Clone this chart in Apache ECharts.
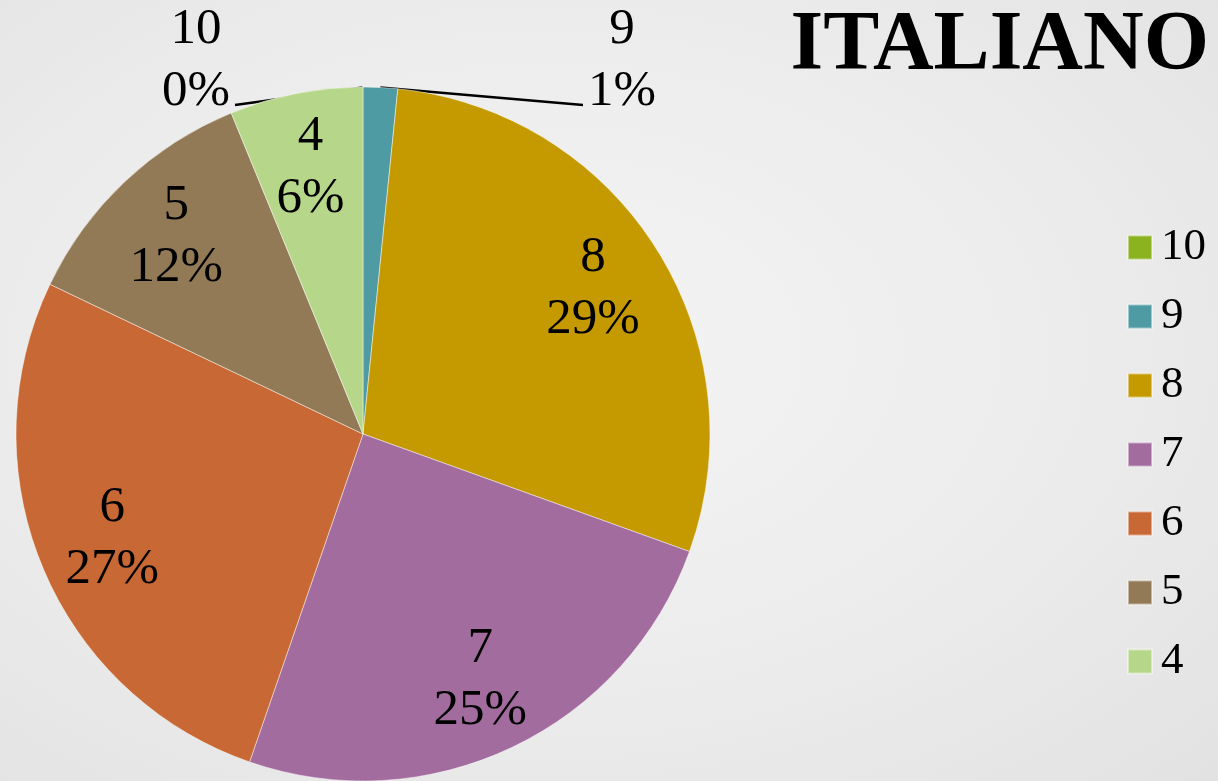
<!DOCTYPE html>
<html>
<head>
    <meta charset="utf-8">
    <title>ITALIANO</title>
    <script src="https://cdn.jsdelivr.net/npm/echarts@6/dist/echarts.min.js"></script>
    <style>
        html, body { margin: 0; padding: 0; }
        body {
            background: radial-gradient(ellipse at 45% 45%, #f4f4f4 0%, #ececec 55%, #e2e2e2 100%);
        }
    </style>
</head>
<body>
    <div id="main" style="width: 1218px; height: 781px;"></div>
    <script type="text/javascript">
        // grades and their share of students
        var grades = ['10', '9', '8', '7', '6', '5', '4'];
        var shares = [0, 1.6, 28.9, 24.8, 26.8, 11.7, 6.2];
        var colors = ['#8bb21f', '#4f9ba3', '#c49a00', '#a26c9f', '#c86834', '#937a56', '#b6d78a'];

        var serif = '"Liberation Serif", "Times New Roman", serif';
        var center = [363, 434];
        var radius = 347;

        var myChart = echarts.init(document.getElementById('main'), null, { renderer: 'canvas' });

        var data = grades.map(function (g, i) {
            var item = { name: g, value: shares[i], itemStyle: { color: colors[i] } };
            // the two thin slices get their label outside, with a leader line
            if (i < 2) {
                item.label = { position: 'outside' };
                item.labelLine = { show: true, lineStyle: { color: '#000', width: 2.5 } };
            }
            return item;
        });

        var option = {
            backgroundColor: 'transparent',
            animation: false,
            title: {
                text: 'ITALIANO',
                right: 9,
                top: 5,
                padding: 0,
                textStyle: {
                    fontFamily: serif,
                    fontWeight: 'bold',
                    fontSize: 84,
                    lineHeight: 84,
                    color: '#000'
                }
            },
            legend: {
                orient: 'vertical',
                left: 1127,
                top: 225,
                padding: 0,
                icon: 'rect',
                itemWidth: 24,
                itemHeight: 24,
                itemGap: 24,
                data: grades,
                textStyle: {
                    fontFamily: serif,
                    fontSize: 45,
                    lineHeight: 45,
                    color: '#000',
                    padding: [0, 0, 0, 4]
                }
            },
            series: [{
                type: 'pie',
                center: center,
                radius: radius,
                startAngle: 90,
                clockwise: true,
                avoidLabelOverlap: false,
                percentPrecision: 0,
                itemStyle: {
                    borderColor: 'rgba(255,255,255,0.45)',
                    borderWidth: 1
                },
                label: {
                    show: true,
                    position: 'inside',
                    formatter: '{b}\n{d}%',
                    fontFamily: serif,
                    fontSize: 51,
                    lineHeight: 62,
                    color: '#000',
                    align: 'center'
                },
                labelLine: { show: false, lineStyle: { width: 2.5 } },
                labelLayout: function (p) {
                    var r = p.rect;
                    var lr = p.labelRect;
                    if (p.dataIndex === 0) {
                        var x0 = 196, y0 = 61;
                        return {
                            x: x0, y: y0, align: 'center', verticalAlign: 'middle',
                            labelLinePoints: [[r.x, r.y + 1], [x0 + lr.width / 2 + 5, y0 + 44]]
                        };
                    }
                    if (p.dataIndex === 1) {
                        var x1 = 622, y1 = 61;
                        return {
                            x: x1, y: y1, align: 'center', verticalAlign: 'middle',
                            labelLinePoints: [[r.x + r.width / 2, r.y + 1], [x1 - lr.width / 2 - 5, y1 + 44]]
                        };
                    }
                    // push inside labels further out, to ~0.77 of the radius
                    var mx = lr.x + lr.width / 2;
                    var my = lr.y + lr.height / 2;
                    var k = 0.54;
                    return { dx: (mx - center[0]) * k, dy: (my - center[1]) * k };
                },
                data: data
            }]
        };

        myChart.setOption(option);
    </script>
</body>
</html>
